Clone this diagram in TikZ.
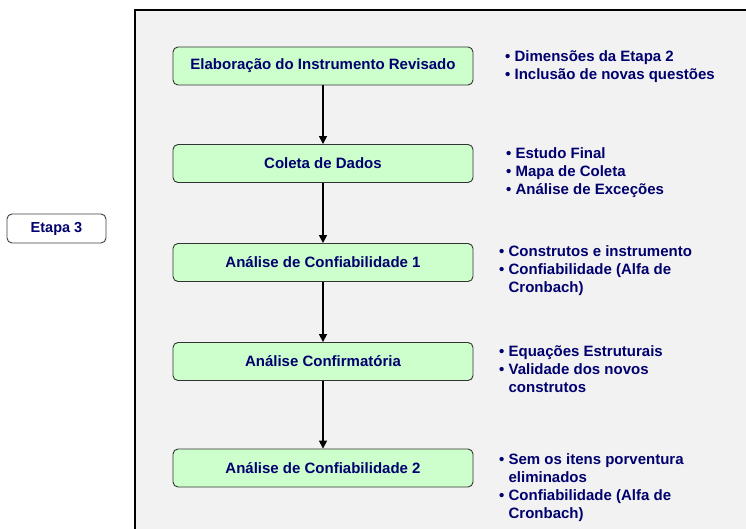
\documentclass[tikz,border=0pt]{standalone}
\usepackage{fontspec}
\setmainfont{Liberation Sans}
\usetikzlibrary{positioning,arrows.meta}
\definecolor{etapanavy}{RGB}{0,0,110}
\definecolor{etapagreen}{RGB}{204,255,204}
\definecolor{panelgray}{RGB}{242,242,242}

\begin{document}
\begin{tikzpicture}[x=1pt, y=-1pt, text=etapanavy,
    font=\bfseries\fontsize{15}{18}\selectfont,
    stepbox/.style={draw=black!80, fill=etapagreen, rounded corners=5pt,
      minimum width=300pt, minimum height=38pt, line width=0.9pt},
    notes/.style={anchor=north west, align=left, inner sep=0pt},
    flow/.style={-{Triangle[length=8pt,width=8pt]}, line width=1.6pt}]
    \useasboundingbox (0,0) rectangle (746,529);
    \fill[panelgray] (135,10) rectangle (760,540);
    \draw[line width=1.6pt] (135,540) -- (135,10) -- (760,10);
    \node[draw=black!75, fill=white, rounded corners=5pt, line width=0.9pt,
      minimum width=99pt, minimum height=29pt, font=\bfseries\fontsize{14.5}{17}\selectfont]
      at (56.5,228.5) (etapa) {Etapa 3};
    \node[stepbox] at (323,66) (elab) {Elaboração do Instrumento Revisado};
    \node[stepbox] at (323,163.5) (coleta) {Coleta de Dados};
    \node[stepbox] at (323,262.5) (conf1) {Análise de Confiabilidade 1};
    \node[stepbox] at (323,361.5) (confirm) {Análise Confirmatória};
    \node[stepbox] at (323,468) (conf2) {Análise de Confiabilidade 2};
    \draw[flow] (elab) -- (coleta);
    \draw[flow] (coleta) -- (conf1);
    \draw[flow] (conf1) -- (confirm);
    \draw[flow] (confirm) -- (conf2);
    \node[notes] at (505,50) (notes1) {\textbullet\ Dimensões da Etapa 2\\
      \textbullet\ Inclusão de novas questões};
    \node[notes] at (506,147) (notes2) {\textbullet\ Estudo Final\\
      \textbullet\ Mapa de Coleta\\
      \textbullet\ Análise de Exceções};
    \node[notes] at (499,245) (notes3) {\textbullet\ Construtos e instrumento\\
      \textbullet\ Confiabilidade (Alfa de\\
      \hphantom{\textbullet\ }Cronbach)};
    \node[notes] at (499,345) (notes4) {\textbullet\ Equações Estruturais\\
      \textbullet\ Validade dos novos\\
      \hphantom{\textbullet\ }construtos};
    \node[notes] at (499,453) (notes5) {\textbullet\ Sem os itens porventura\\
      \hphantom{\textbullet\ }eliminados\\
      \textbullet\ Confiabilidade (Alfa de\\
      \hphantom{\textbullet\ }Cronbach)};
\end{tikzpicture}
\end{document}
